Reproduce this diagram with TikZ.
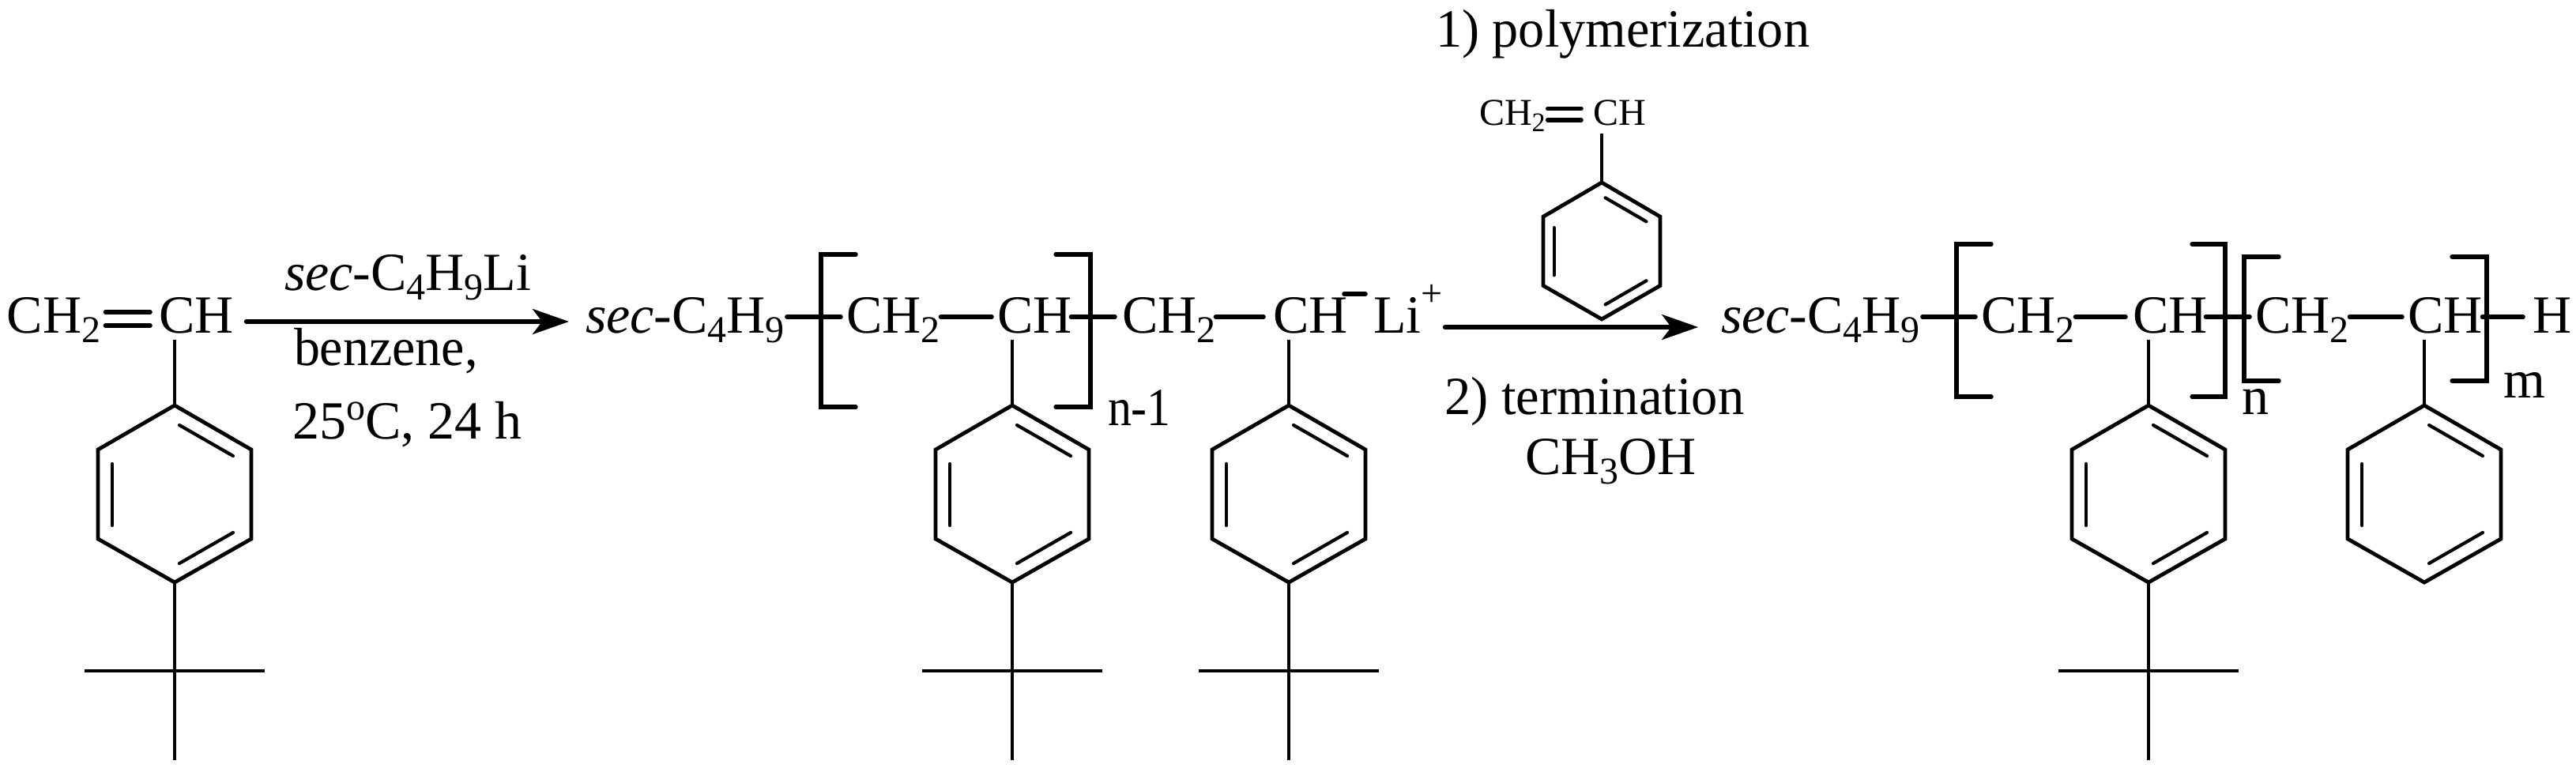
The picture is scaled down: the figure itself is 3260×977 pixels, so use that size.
\documentclass[tikz,border=0pt]{standalone}
\usepackage{fontspec}
\setmainfont{Liberation Serif}
\usetikzlibrary{arrows.meta}
\newcommand{\chsub}[1]{\raisebox{-6pt}{\fontsize{24}{24}\selectfont #1}}
\newcommand{\chsup}[2]{\raisebox{#1}{\fontsize{24}{24}\selectfont #2}}
\newcommand{\secCH}{\textit{sec}-C\chsub{4}H\chsub{9}}
% ring: name, centre x, top y, x scale, y scale
\newcommand{\phring}[5]{%
  \begin{scope}[shift={(#2,#3)},xscale=#4,yscale=#5]
    \coordinate (#1t) at (0,0);
    \coordinate (#1b) at (0,224);
    \draw[ringline] (#1t) -- (97,56) -- (97,169) -- (#1b) -- (-97,169) -- (-97,56) -- cycle;
    \draw[innerline] (6,25) -- (74,64);
    \draw[innerline] (6,200) -- (74,161);
    \draw[innerline] (-79,74) -- (-79,152);
  \end{scope}}
% tert-butyl hung from ring: ring name, centre x
\newcommand{\tbutyl}[2]{%
  \coordinate (#1c) at (#2,849);
  \coordinate (#1l) at (#2-114,849);
  \coordinate (#1r) at (#2+114,849);
  \coordinate (#1e) at (#2,962);
  \draw[ringline] (#1b) -- (#1e);
  \draw[ringline] (#1l) -- (#1r);}
\tikzset{
  chem/.style={anchor=base west,inner sep=0pt,outer sep=0pt,font=\fontsize{34}{34}\selectfont},
  chemsmall/.style={anchor=base west,inner sep=0pt,outer sep=0pt,font=\fontsize{24}{24}\selectfont},
  cond/.style={anchor=base west,inner sep=0pt,outer sep=0pt,font=\fontsize{34}{34}\selectfont},
  ringline/.style={line width=2.4pt,line join=miter,black},
  innerline/.style={line width=2.1pt,line cap=round,black},
  bondline/.style={line width=2.8pt,line cap=round,black},
  bracket/.style={line width=2.7pt,line join=miter,line cap=round,black},
  rxn/.style={line width=2.6pt,line cap=round,black,-{Stealth[length=23pt,width=16pt,inset=6pt]}},
}
\begin{document}
\begin{tikzpicture}[x=0.5pt,y=-0.5pt]
\useasboundingbox (0,0) rectangle (3260,977);
\fill[white] (0,0) rectangle (3260,977);

% ---- monomer
\node[chem] (m1a) at (9,422) {CH\chsub{2}};
\node[chem] (m1b) at (201,422) {CH};
\draw[bondline] ([shift={(6,-27)}]m1a.base east) -- ([shift={(-11,-27)}]m1b.base west);
\draw[bondline] ([shift={(6,-10)}]m1a.base east) -- ([shift={(-11,-10)}]m1b.base west);
\phring{r1}{221}{513}{1}{1}
\coordinate (s1) at (221,430);
\draw[ringline] (s1) -- (r1t);
\tbutyl{r1}{221}

% ---- first arrow and conditions
\node[cond] (c1) at (360,368) {\textit{sec}-C\chsub{4}H\chsub{9}Li};
\node[cond] (c2) at (372,463) {\scalebox{0.97}[1]{benzene,}};
\node[cond] (c3) at (370,556) {25\chsup{12pt}{o}C, 24 h};

% ---- living chain
\node[chem] (l0) at (741,422) {\secCH};
\node[chem] (l1) at (1071,422) {CH\chsub{2}};
\node[chem] (l2) at (1262,422) {CH};
\node[chem] (l3) at (1420,422) {CH\chsub{2}};
\node[chem] (l4) at (1611,422) {CH};
\node[chem] (li) at (1738,422) {Li\chsup{17pt}{+}};
\draw[bondline] ([shift={(3,-21)}]l0.base east) -- ([shift={(-7,-21)}]l1.base west);
\draw[bondline] ([shift={(1,-21)}]l1.base east) -- ([shift={(-7,-21)}]l2.base west);
\draw[bondline] ([shift={(-1,-21)}]l2.base east) -- ([shift={(-9,-21)}]l3.base west);
\draw[bondline] ([shift={(0,-21)}]l3.base east) -- ([shift={(-12,-21)}]l4.base west);
\coordinate (lm1) at (1701,372);
\coordinate (lm2) at (1728,372);
\draw[bondline] (lm1) -- (lm2);
\draw[bracket] (1083,322) -- (1039,322) -- (1039,515) -- (1083,515);
\draw[bracket] (1336,322) -- (1380,322) -- (1380,515) -- (1336,515);
\node[chem] (nm1) at (1402,539) {\scalebox{0.88}[1]{n-1}};
\phring{r2}{1281}{513}{1}{1}
\phring{r3}{1631}{513}{1}{1}
\coordinate (s2) at (1281,430);
\coordinate (s3) at (1631,430);
\draw[ringline] (s2) -- (r2t);
\draw[ringline] (s3) -- (r3t);
\tbutyl{r2}{1281}
\tbutyl{r3}{1631}

% ---- second arrow and conditions
\node[cond] (d1) at (1817,60) {\scalebox{0.975}[1]{1) polymerization}};
\node[chemsmall] (sa) at (1872,159) {CH\raisebox{-4pt}{\fontsize{17}{17}\selectfont 2}};
\node[chemsmall] (sb) at (2016,159) {CH};
\draw[bondline] ([shift={(3,-21.5)}]sa.base east) -- ([shift={(-15,-21.5)}]sb.base west);
\draw[bondline] ([shift={(3,-7)}]sa.base east) -- ([shift={(-15,-7)}]sb.base west);
\phring{r4}{2027}{231}{0.763}{0.772}
\coordinate (s4) at (2027,169);
\draw[ringline] (s4) -- (r4t);
\node[cond] (d2) at (1828,525) {\scalebox{0.98}[1]{2) termination}};
\node[cond] (d3) at (1930,601) {CH\chsub{3}OH};

% ---- final copolymer
\node[chem] (p0) at (2178,422) {\secCH};
\node[chem] (p1) at (2507,422) {CH\chsub{2}};
\node[chem] (p2) at (2699,422) {CH};
\node[chem] (p3) at (2854,422) {CH\chsub{2}};
\node[chem] (p4) at (3047,422) {CH};
\node[chem] (p5) at (3205,422) {H};
\draw[bondline] ([shift={(3,-21)}]p0.base east) -- ([shift={(-7,-21)}]p1.base west);
\draw[bondline] ([shift={(1,-21)}]p1.base east) -- ([shift={(-9,-21)}]p2.base west);
\draw[bondline] ([shift={(-2,-21)}]p2.base east) -- ([shift={(-7,-21)}]p3.base west);
\draw[bondline] ([shift={(1,-21)}]p3.base east) -- ([shift={(-7,-21)}]p4.base west);
\draw[bondline] ([shift={(0,-21)}]p4.base east) -- ([shift={(-12,-21)}]p5.base west);
\draw[bracket] (2520,309) -- (2476,309) -- (2476,502) -- (2520,502);
\draw[bracket] (2774,309) -- (2816,309) -- (2816,502) -- (2774,502);
\draw[bracket] (2884,325) -- (2840,325) -- (2840,482) -- (2884,482);
\draw[bracket] (3103,325) -- (3147,325) -- (3147,482) -- (3103,482);
\node[chem] (nn) at (2837,525) {n};
\node[chem] (mm) at (3168,504) {m};
\phring{r5}{2719}{513}{1}{1}
\phring{r6}{3068}{513}{1}{1}
\coordinate (s5) at (2719,430);
\coordinate (s6) at (3068,430);
\draw[ringline] (s5) -- (r5t);
\draw[ringline] (s6) -- (r6t);
\tbutyl{r5}{2719}

% ---- reaction arrows
\draw[rxn] ([shift={(16,-15)}]m1b.base east) -- ([shift={(-21,-15)}]l0.base west);
\draw[rxn] ([shift={(3,-8)}]li.base east) -- ([shift={(-29,-8)}]p0.base west);
\end{tikzpicture}
\end{document}
